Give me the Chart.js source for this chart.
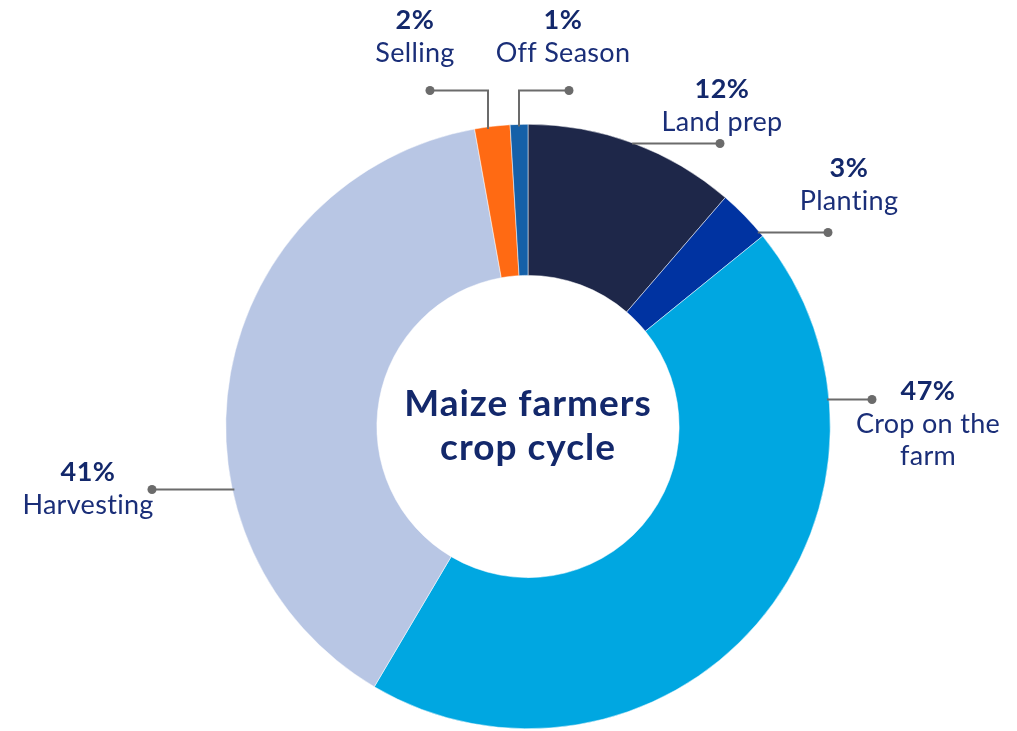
<!DOCTYPE html>
<html>
<head>
<meta charset="utf-8">
<script src="https://cdn.jsdelivr.net/npm/chart.js@4.4.1/dist/chart.umd.min.js"></script>
<style>
  html, body { margin: 0; padding: 0; background: #fff; }
  #wrap { width: 1017px; height: 731px; }
</style>
</head>
<body>
<div id="wrap"><canvas id="myChart" width="1017" height="731"></canvas></div>
<script>
// chart data
var stages = ['Land prep', 'Planting', 'Crop on the farm', 'Harvesting', 'Selling', 'Off Season'];
var shares = [12, 3, 47, 41, 2, 1];
var stageLines = [['Land prep'], ['Planting'], ['Crop on the', 'farm'], ['Harvesting'], ['Selling'], ['Off Season']];
var centerTitle = ['Maize farmers', 'crop cycle'];

var sliceColors = ['#1e2749', '#0033a1', '#00a7e1', '#b8c6e4', '#ff6a13', '#1560a8'];

// label placement, offsets from the doughnut centre
// leader: h = horizontal line at y offset, ending at x offset; v = vertical then horizontal
var labelLayout = [
  { tx: 194, ty: -337, leader: { type: 'h', y: -283, toX: 192 } },
  { tx: 321, ty: -258, leader: { type: 'h', y: -194, toX: 300 } },
  { tx: 400, ty: -35, leader: { type: 'h', y: -27, toX: 344 } },
  { tx: -440, ty: 46, leader: { type: 'h', y: 63, toX: -376 } },
  { tx: -113, ty: -406, leader: { type: 'v', x: -40, toY: -336, toX: -98 } },
  { tx: 35, ty: -406, leader: { type: 'v', x: -9, toY: -336, toX: 41 } }
];

var FONT = 'Lato, "Noto Sans", sans-serif';
var navy = '#1a2e78';
var navyBold = '#13286b';

var calloutPlugin = {
  id: 'callouts',
  afterDatasetsDraw: function(chart) {
    var ctx = chart.ctx;
    var arc = chart.getDatasetMeta(0).data[0];
    var cx = arc.x, cy = arc.y, r = arc.outerRadius;
    ctx.save();

    // leader lines
    labelLayout.forEach(function(l) {
      var ld = l.leader, x0, y0, pts;
      if (ld.type === 'h') {
        var dx = Math.sqrt(Math.max(r * r - ld.y * ld.y, 0));
        x0 = cx + (ld.toX > 0 ? dx : -dx) - (ld.toX > 0 ? 2 : -2);
        y0 = cy + ld.y;
        pts = [[x0, y0], [cx + ld.toX, y0]];
      } else {
        var dy = Math.sqrt(Math.max(r * r - ld.x * ld.x, 0));
        x0 = cx + ld.x;
        y0 = cy - dy + 2;
        pts = [[x0, y0], [x0, cy + ld.toY], [cx + ld.toX, cy + ld.toY]];
      }
      ctx.strokeStyle = '#6b6b6b';
      ctx.lineWidth = 2;
      ctx.beginPath();
      ctx.moveTo(pts[0][0], pts[0][1]);
      for (var i = 1; i < pts.length; i++) ctx.lineTo(pts[i][0], pts[i][1]);
      ctx.stroke();
      var end = pts[pts.length - 1];
      ctx.fillStyle = '#6b6b6b';
      ctx.beginPath();
      ctx.arc(end[0], end[1], 4.5, 0, Math.PI * 2);
      ctx.fill();
    });

    // label texts
    ctx.textAlign = 'center';
    ctx.textBaseline = 'middle';
    labelLayout.forEach(function(l, i) {
      var x = cx + l.tx, y = cy + l.ty;
      ctx.fillStyle = navyBold;
      ctx.font = 'bold 27px ' + FONT;
      ctx.letterSpacing = '0.5px';
      ctx.fillText(shares[i] + '%', x, y);
      ctx.fillStyle = navy;
      ctx.font = '27px ' + FONT;
      ctx.letterSpacing = '0.3px';
      stageLines[i].forEach(function(line, j) {
        ctx.fillText(line, x, y + 33 + j * 32);
      });
    });

    // centre title
    ctx.fillStyle = navyBold;
    ctx.font = 'bold 37px ' + FONT;
    ctx.letterSpacing = '1px';
    ctx.fillText(centerTitle[0], cx, cy - 22);
    ctx.fillText(centerTitle[1], cx, cy + 22);
    ctx.restore();
  }
};

document.addEventListener('DOMContentLoaded', function() {
  var ctx = document.getElementById('myChart').getContext('2d');
  var myChart = new Chart(ctx, {
    type: 'doughnut',
    data: {
      labels: stages,
      datasets: [{
        data: shares,
        backgroundColor: sliceColors,
        borderColor: '#ffffff',
        borderWidth: 0.5
      }]
    },
    options: {
      responsive: false,
      animation: false,
      cutout: '50%',
      layout: { padding: { top: 124, bottom: 2, left: 39, right: 0 } },
      plugins: {
        legend: { display: false },
        tooltip: { enabled: false }
      }
    },
    plugins: [calloutPlugin]
  });
});
</script>
</body>
</html>
